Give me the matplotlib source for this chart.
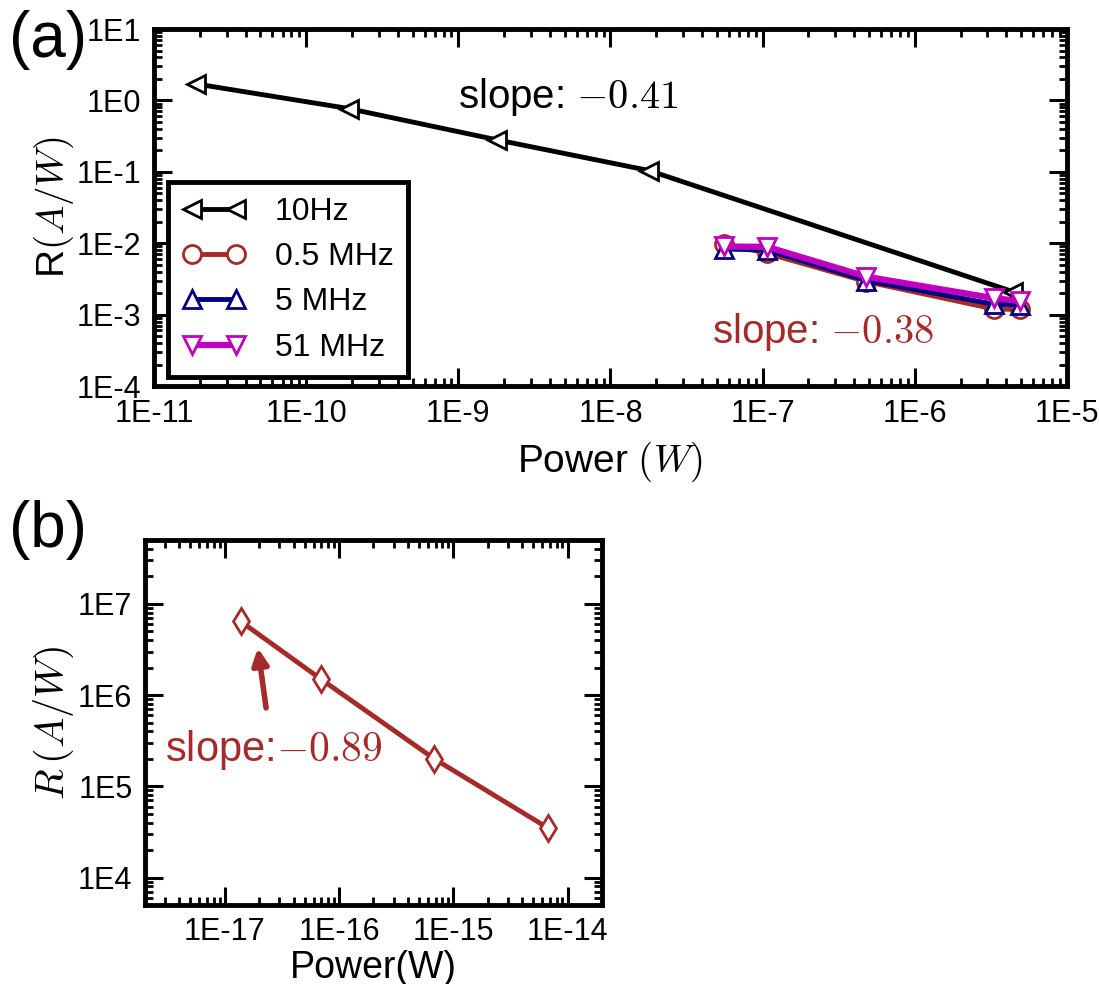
import matplotlib
matplotlib.use("Agg")
import matplotlib.pyplot as plt
from matplotlib.ticker import LogLocator, FuncFormatter, NullFormatter
import numpy as np

plt.rcParams['font.family'] = ['Liberation Sans', 'DejaVu Sans']
plt.rcParams['mathtext.fontset'] = 'cm'

brown = '#a52a2a'
navy = '#000080'
mag = '#c000c0'

# panel (a) data
p_10hz = [1.9e-11, 1.9e-10, 1.8e-9, 1.8e-8, 4.4e-6]
r_10hz = [1.7, 0.77, 0.28, 0.104, 0.0021]
p_mhz = [5.6e-8, 1.07e-7, 4.8e-7, 3.3e-6, 4.9e-6]
r_05 = [0.0099, 0.0072, 0.0029, 0.00120, 0.00118]
r_5 = [0.0083, 0.0080, 0.0030, 0.00140, 0.00138]
r_51 = [0.0090, 0.0089, 0.0034, 0.00170, 0.00155]
xt_a = [1e-11, 1e-10, 1e-9, 1e-8, 1e-7, 1e-6, 1e-5]
yt_a = [1e-4, 1e-3, 1e-2, 1e-1, 1e0, 1e1]

# panel (b) data
p_b = [1.38e-17, 6.9e-17, 6.8e-16, 6.7e-15]
r_b = [6.4e6, 1.5e6, 2.0e5, 3.5e4]
xt_b = [1e-17, 1e-16, 1e-15, 1e-14]
yt_b = [1e4, 1e5, 1e6, 1e7]

fmt = FuncFormatter(lambda v, pos: "1E%d" % int(round(np.log10(v))))


def style(ax, xt, yt):
    for s in ax.spines.values():
        s.set_linewidth(3.5)
    ax.set_xticks(xt)
    ax.set_yticks(yt)
    ax.tick_params(which='both', direction='in', top=True, right=True, labelsize=22)
    ax.tick_params(which='major', length=13, width=2.2, pad=9)
    ax.tick_params(which='minor', length=6, width=2)
    for a in (ax.xaxis, ax.yaxis):
        a.set_minor_locator(LogLocator(base=10, subs=np.arange(2, 10), numticks=20))
        a.set_major_formatter(fmt)
        a.set_minor_formatter(NullFormatter())


fig = plt.figure(figsize=(10.99, 9.84), dpi=100)

ax1 = fig.add_axes([0.1401, 0.6077, 0.8308, 0.3628])
kw = dict(ms=13, mew=2, mfc='white')
ax1.plot(p_10hz, r_10hz, '-<', color='black', mec='black', lw=3.5, label='10Hz', **kw)
ax1.plot(p_mhz, r_05, '-o', color=brown, mec=brown, lw=3.5, label='0.5 MHz', **kw)
ax1.plot(p_mhz, r_5, '-^', color=navy, mec=navy, lw=3.5, label='5 MHz', **kw)
ax1.plot(p_mhz, r_51, '-v', color=mag, mec=mag, lw=4.5, label='51 MHz', **kw)
ax1.set_xscale('log')
ax1.set_yscale('log')
style(ax1, xt_a, yt_a)
ax1.set_xlim(1e-11, 1e-5)
ax1.set_ylim(1e-4, 1e1)
ax1.set_xlabel('Power $(W)$', fontsize=28)
ax1.set_ylabel('R$(A/W)$', fontsize=28)
ax1.xaxis.set_label_coords(0.5, -0.151)
ax1.yaxis.set_label_coords(-0.085, 0.5)
leg = ax1.legend(loc='lower left', bbox_to_anchor=(0.015, 0.025), borderaxespad=0,
                 numpoints=2, fontsize=23, fancybox=False, framealpha=1,
                 edgecolor='black', handlelength=2.0, labelspacing=0.48,
                 borderpad=0.45, handletextpad=0.9)
leg.get_frame().set_linewidth(3.5)
ax1.text(0.333, 0.809, 'slope: $-0.41$', transform=ax1.transAxes, fontsize=29,
         va='center', color='black')
ax1.text(0.611, 0.151, 'slope: $-0.38$', transform=ax1.transAxes, fontsize=29,
         va='center', color=brown)

ax2 = fig.add_axes([0.1319, 0.0803, 0.4159, 0.3709])
ax2.plot(p_b, r_b, '-d', color=brown, mec=brown, mfc='white', lw=3.5, ms=13, mew=2)
ax2.set_xscale('log')
ax2.set_yscale('log')
style(ax2, xt_b, yt_b)
ax2.set_xlim(2e-18, 2e-14)
ax2.set_ylim(5e3, 5e7)
ax2.set_xlabel('Power(W)', fontsize=27)
ax2.set_ylabel(r'$R\,(A/W)$', fontsize=29)
ax2.xaxis.set_label_coords(0.5, -0.123)
ax2.yaxis.set_label_coords(-0.15, 0.5)
ax2.text(0.044, 0.425, 'slope:$-0.89$', transform=ax2.transAxes, fontsize=30,
         va='center', color=brown)
ax2.annotate('', xy=(0.247, 0.704), xytext=(0.265, 0.54), xycoords='axes fraction',
             arrowprops=dict(arrowstyle='-|>', lw=4, color=brown, mutation_scale=24,
                             shrinkA=0, shrinkB=0))

fig.text(0.008, 0.959, '(a)', fontsize=46, va='center')
fig.text(0.008, 0.461, '(b)', fontsize=46, va='center')

fig.savefig('out.png', dpi=100)
